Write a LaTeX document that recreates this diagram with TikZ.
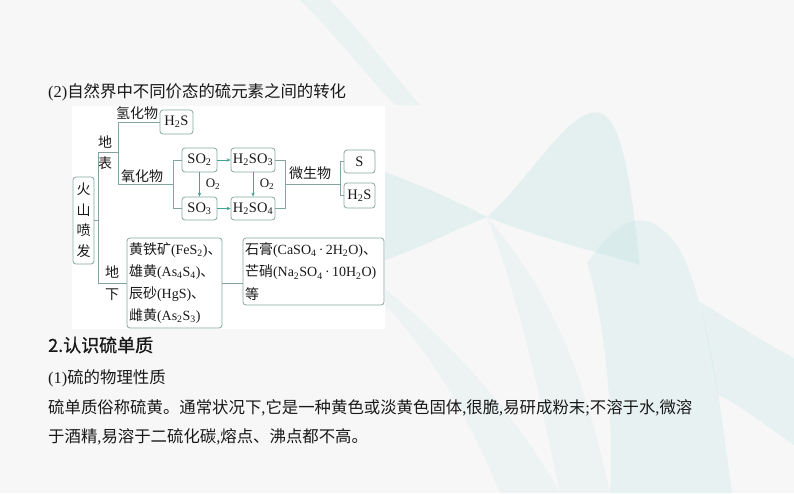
\documentclass[tikz,border=0pt]{standalone}
\usepackage{fontspec}
\setmainfont{Liberation Serif}
\newfontfamily\cjk{Noto Sans CJK SC}
\newfontfamily\cjkb[FakeBold=1]{Noto Sans CJK SC}
\usetikzlibrary{arrows.meta}
\definecolor{bgc}{RGB}{247,247,247}
\definecolor{tealc}{RGB}{185,226,224}
\definecolor{boxc}{RGB}{135,168,163}
\definecolor{linec}{RGB}{130,165,160}
\definecolor{arrc}{RGB}{70,165,145}
\definecolor{txt}{RGB}{25,25,25}
\newcommand{\sbs}[1]{\textsubscript{#1}}
\begin{document}
\begin{tikzpicture}[x=1pt,y=-1pt,
  bx/.style={draw=boxc, line width=0.8pt, rounded corners=3pt, fill=white, inner sep=0pt, text=txt, font=\fontsize{14.5}{14.5}\selectfont},
  ln/.style={draw=linec, line width=0.7pt},
  ar/.style={draw=arrc, line width=0.9pt, -{Stealth[length=4pt,width=3.5pt]}},
  lab/.style={inner sep=0pt, text=txt, font=\fontsize{14}{14}\selectfont\cjk},
  sml/.style={inner sep=0pt, text=txt, font=\fontsize{13}{13}\selectfont},
  body/.style={inner sep=0pt, anchor=west, text=txt, font=\fontsize{16.4}{16.4}\selectfont}
]
\useasboundingbox (0,0) rectangle (794,493);
\fill[bgc] (0,0) rectangle (794,493);
% background decoration
\begin{scope}[fill=tealc]
\fill[opacity=0.18] (300,0) .. controls (340,40) and (370,80) .. (395,105) -- (420,105) .. controls (390,70) and (360,30) .. (330,0) -- cycle;
\fill[opacity=0.3] (380,170) .. controls (420,185) and (455,200) .. (487,217) .. controls (450,232) and (420,248) .. (380,262) -- cycle;
\fill[opacity=0.3] (487,217) .. controls (530,180) and (570,105) .. (600,113) .. controls (625,120) and (632,200) .. (640,265) .. controls (590,250) and (540,238) .. (487,217) -- cycle;
\fill[opacity=0.25] (587,263) .. controls (610,230) and (630,215) .. (650,222) .. controls (680,235) and (690,270) .. (700,305) .. controls (715,360) and (722,420) .. (732,493) -- (610,493) .. controls (615,400) and (600,300) .. (587,263) -- cycle;
\fill[opacity=0.25] (700,302) .. controls (730,320) and (760,340) .. (794,358) -- (794,445) .. controls (765,425) and (740,405) .. (718,395) -- cycle;
\fill[opacity=0.15] (380,300) .. controls (430,350) and (470,420) .. (500,493) -- (560,493) .. controls (520,420) and (450,340) .. (380,285) -- cycle;
\fill[opacity=0.15] (487,217) .. controls (520,300) and (540,400) .. (560,493) -- (610,493) .. controls (590,400) and (560,300) .. (487,217) -- cycle;
\end{scope}
% white panel
\fill[white] (72,106) rectangle (385,329);
% title
\node[body] (title) at (48,92) {(2){\cjk 自然界中不同价态的硫元素之间的转化}};
% boxes
\node[bx, minimum width=21pt, minimum height=87pt, align=center, font=\fontsize{14}{20.5}\selectfont\cjk] (huo) at (83.5,220.5) {火\\山\\喷\\发};
\node[bx, minimum width=33pt, minimum height=24pt] (h2sa) at (176.5,122) {H\sbs{2}S};
\node[bx, minimum width=35pt, minimum height=24pt] (so2) at (199.5,160) {SO\sbs{2}};
\node[bx, minimum width=35pt, minimum height=23pt] (so3) at (199.5,208.5) {SO\sbs{3}};
\node[bx, minimum width=44pt, minimum height=24pt] (h2so3) at (253,160) {H\sbs{2}SO\sbs{3}};
\node[bx, minimum width=44pt, minimum height=23pt] (h2so4) at (253,208.5) {H\sbs{2}SO\sbs{4}};
\node[bx, minimum width=31pt, minimum height=23pt] (s) at (359.5,161.5) {S};
\node[bx, minimum width=31pt, minimum height=25pt] (h2sb) at (359.5,195.5) {H\sbs{2}S};
\node[bx, minimum width=95pt, minimum height=90pt, text width=91pt, align=left, font=\fontsize{14}{22}\selectfont] (mine) at (174.5,283)
  {{\cjk 黄铁矿}(FeS\sbs{2}){\cjk 、}\\{\cjk 雄黄}(As\sbs{4}S\sbs{4}){\cjk 、}\\{\cjk 辰砂}(HgS){\cjk 、}\\{\cjk 雌黄}(As\sbs{2}S\sbs{3})};
\node[bx, minimum width=141pt, minimum height=67pt, text width=137pt, align=left, font=\fontsize{14}{22.5}\selectfont] (gyp) at (313.5,271.5)
  {{\cjk 石膏}(CaSO\sbs{4}\,·\,2H\sbs{2}O){\cjk 、}\\{\cjk 芒硝}(Na\sbs{2}SO\sbs{4}\,·\,10H\sbs{2}O)\\{\cjk 等}};
% labels
\node[lab] (qhw) at (137,113) {氢化物};
\node[lab] (yhw) at (142,176) {氧化物};
\node[lab] (di1) at (105,142) {地};
\node[lab] (biao) at (105,163) {表};
\node[lab] (di2) at (112,272) {地};
\node[lab] (xia) at (112,295) {下};
\node[lab] (wsw) at (310,173) {微生物};
\node[sml] (o2a) at (213,184) {O\sbs{2}};
\node[sml] (o2b) at (267,184) {O\sbs{2}};
% connectors
\coordinate (j0) at (98,220.5);
\coordinate (jt) at (98,152);
\coordinate (jb) at (98,283);
\coordinate (a1) at (118,152);
\coordinate (a2) at (118,122);
\coordinate (a3) at (118,184);
\coordinate (b1) at (173,184);
\coordinate (b2) at (173,160);
\coordinate (b3) at (173,208.5);
\coordinate (c1) at (285,160);
\coordinate (c2) at (285,208.5);
\coordinate (c3) at (285,184);
\coordinate (d1) at (340,184);
\coordinate (d2) at (340,161.5);
\coordinate (d3) at (340,195.5);
\draw[ln] (huo.east) -- (j0);
\draw[ln] (jt) -- (jb);
\draw[ln] (jt) -- (a1);
\draw[ln] (a2) -- (a3);
\draw[ln] (a2) -- (h2sa.west);
\draw[ln] (a3) -- (b1);
\draw[ln] (so2.west) -- (b2) -- (b3) -- (so3.west);
\draw[ln] (h2so3.east) -- (c1) -- (c2) -- (h2so4.east);
\draw[ln] (c3) -- (d1);
\draw[ln] (s.west) -- (d2) -- (d3) -- (h2sb.west);
\draw[ln] (jb) -- (mine.west);
\draw[ln] (mine.east) -- (mine.east -| gyp.west);
\draw[ar] (so2.east) -- (h2so3.west);
\draw[ar] (so3.east) -- (h2so4.west);
\draw[ar] (so2.south) -- (so3.north);
\draw[ar] (h2so3.south) -- (h2so4.north);
% lower text
\node[body, font=\fontsize{18}{18}\selectfont\cjkb] (sec) at (48,345) {2.认识硫单质};
\node[body] (sub1) at (48,378) {(1){\cjk 硫的物理性质}};
\node[body] (p1) at (48,408) {{\cjk 硫单质俗称硫黄。通常状况下},{\cjk 它是一种黄色或淡黄色固体},{\cjk 很脆},{\cjk 易研成粉末};{\cjk 不溶于水},{\cjk 微溶}};
\node[body] (p2) at (48,437) {{\cjk 于酒精},{\cjk 易溶于二硫化碳},{\cjk 熔点、沸点都不高。}};
\end{tikzpicture}
\end{document}
